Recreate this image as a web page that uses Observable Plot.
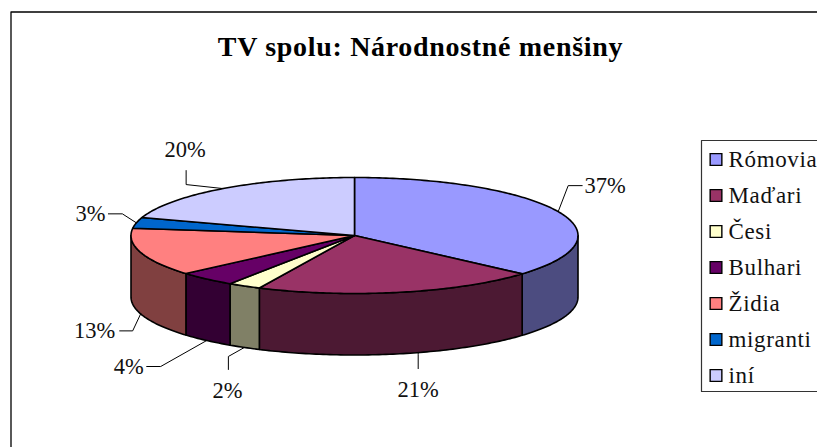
<!DOCTYPE html>
<html lang="sk">
<head>
<meta charset="utf-8">
<script src="https://cdn.jsdelivr.net/npm/d3@7"></script>
<script src="https://cdn.jsdelivr.net/npm/@observablehq/plot@0.6"></script>
<style>
html,body{margin:0;padding:0;background:#fff}
svg{display:block}
.leg text{letter-spacing:.65px}
.ttl text{letter-spacing:.68px}
</style>
</head>
<body>
<div id="chart"></div>
<script>
const title = "TV spolu: Národnostné menšiny";
const categories = ["Rómovia","Maďari","Česi","Bulhari","Židia","migranti","iní"];
const shares = [36.5,20.5,2.4,4.2,13.4,3,20];
const topColors = ["#9999ff","#993366","#ffffcc","#660066","#ff8080","#0066cc","#ccccff"];
const wallColors = ["#4c4c80","#4c1933","#808066","#330033","#804040","#003366","#666680"];

// layout of the tilted pie
const W = 817, H = 447;
const cx = 354, cy = 235, rx = 223.5, ry = 58, depth = 61.5;
// leader line shape relative to the rim anchor: [elbow, end, label centre]; nudge shifts the anchor (in % of the circle)
const leaderShape = [
  {elbow:[10,-26], end:[24,-26], label:[47,-26]},
  {nudge:-1.35, elbow:[0,2], end:[0,16], label:[0,37]},
  {elbow:[-16,9], end:[-16,22], label:[-17,43]},
  {elbow:[-46,26], end:[-60,26], label:[-78,26]},
  {elbow:[-8,17], end:[-21,17], label:[-46,17]},
  {elbow:[-14,-9], end:[-28,-9], label:[-46,-9]},
  {elbow:[-37,-4], end:[-37,-18], label:[-38,-39]}
];

const rimAt = (pct, lift = 0) => {
  const a = pct / 100 * 2 * Math.PI;
  return {x: cx + rx * Math.sin(a), y: cy - ry * Math.cos(a) + lift};
};
const arc = (from, to, lift = 0) => {
  const n = Math.max(2, Math.ceil((to - from) * 4));
  return d3.range(n + 1).map(i => rimAt(from + (to - from) * i / n, lift));
};

let acc = 0;
const slices = shares.map((v, i) => {
  const s = {i, from: acc, to: acc + v, mid: acc + v / 2};
  acc += v;
  return s;
});

const topPoly = s => {
  const p = arc(s.from, s.to);
  return [{x: cx, y: cy}, ...p, {x: cx, y: cy}];
};
const wallPoly = s => {
  const a = Math.max(s.from, 25), b = Math.min(s.to, 75); // front half of the disc
  if (b <= a) return null;
  const p = arc(a, b);
  const q = arc(a, b, depth).reverse();
  return [...p, ...q, p[0]];
};

const poly = (pts, fill) => Plot.line(pts, {x:"x", y:"y", fill, stroke:"#000", strokeWidth:1.6, strokeLinejoin:"round", curve:"linear"});

const leaders = slices.map(s => {
  const sh = leaderShape[s.i];
  const front = s.mid > 25 && s.mid < 75;
  const a = rimAt(s.mid + (sh.nudge || 0), front ? depth : 0);
  return {
    line: [a, {x:a.x+sh.elbow[0], y:a.y+sh.elbow[1]}, {x:a.x+sh.end[0], y:a.y+sh.end[1]}],
    lx: a.x + sh.label[0], ly: a.y + sh.label[1],
    text: Math.round(shares[s.i]) + "%"
  };
});

const legendTop = 159, legendStep = 36, legendSwatch = 715.5, legendText = 728;
const legendRows = categories.map((c, i) => ({c, color: topColors[i], y: legendTop + i * legendStep}));

const plot = Plot.plot({
  width: W, height: H,
  margin: 0,
  x: {domain:[0,W], range:[0,W], axis:null},
  y: {domain:[0,H], range:[0,H], axis:null},
  style: {background:"#fff", fontFamily:"'Liberation Serif', serif", color:"#000", overflow:"hidden"},
  marks: [
    // chart frame
    Plot.line([{x:10.5,y:H},{x:10.5,y:11.5},{x:W,y:11.5}], {x:"x", y:"y", stroke:"#000", strokeWidth:1.3}),
    Plot.text([title], {x:420, y:47, text:d=>d, fontSize:28, fontWeight:"bold", fill:"#000", className:"ttl"}),
    // pie walls, then tops
    ...slices.map(wallPoly).map((p,i) => p ? poly(p, wallColors[i]) : null).filter(Boolean),
    ...slices.map((s,i) => poly(topPoly(s), topColors[i])),
    // leaders and labels
    ...leaders.map(l => Plot.line(l.line, {x:"x", y:"y", stroke:"#000", strokeWidth:1})),
    Plot.text(leaders, {x:"lx", y:"ly", text:"text", fontSize:22.5, fill:"#111"}),
    // legend
    Plot.line([{x:W,y:140},{x:701,y:140},{x:701,y:391},{x:W,y:391}], {x:"x", y:"y", stroke:"#333", strokeWidth:1.2}),
    Plot.dot(legendRows, {x:()=>legendSwatch, y:"y", r:6.6, symbol:"square", fill:"color", stroke:"#000", strokeWidth:1.4}),
    Plot.text(legendRows, {x:()=>legendText, y:"y", text:"c", textAnchor:"start", fontSize:23, fill:"#111", className:"leg"})
  ]
});
document.getElementById("chart").append(plot);
</script>
</body>
</html>
